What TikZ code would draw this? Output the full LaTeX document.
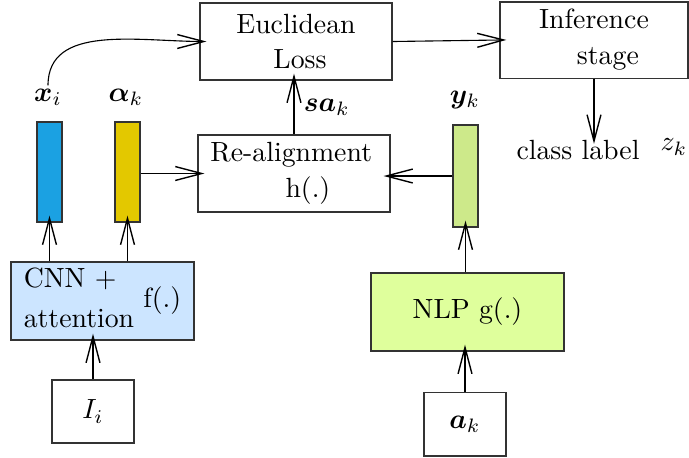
\documentclass[tikz,border=0pt]{standalone}
\usepackage{bm}
\usetikzlibrary{arrows.meta}
\definecolor{barblue}{HTML}{1BA1E2}
\definecolor{baryellow}{HTML}{E3C800}
\definecolor{bargreen}{HTML}{CDE98A}
\definecolor{cnnfill}{HTML}{CCE5FF}
\definecolor{nlpfill}{HTML}{DFFF9C}
\begin{document}
\begin{tikzpicture}[x=0.36pt,y=-0.36pt,
  box/.style={draw=black!80, rectangle, inner sep=0pt, align=center},
  bar/.style={draw=black!80, rectangle, minimum width=9pt, minimum height=36pt, inner sep=0pt},
  arr/.style={-{Straight Barb[length=9.5pt,width=5pt,line width=0.5pt]}, shorten >=-2.5pt},
  lbl/.style={inner sep=1pt}]
\useasboundingbox (0,0) rectangle (689,457);
% boxes
\node[box, minimum width=69.1pt, minimum height=27.7pt] (euc) at (296,41.5) {Euclidean\\[0.6pt]\hspace*{2.9pt}Loss};
\node[box, minimum width=67.7pt, minimum height=27.4pt] (inf) at (594,40) {Inference\\[1pt]\hspace*{10pt}stage};
\node[box, minimum width=69.1pt, minimum height=27.7pt] (realign) at (294,173.5) {Re-alignment\hspace*{2pt}\\[1pt]\hspace*{10pt}h(.)};
\node[box, fill=cnnfill, minimum width=65.9pt, minimum height=28.1pt] (cnn) at (102.5,301) {\begin{tabular}{@{}l@{}}CNN $+$\\[2.5pt]attention\end{tabular} f(.)};
\node[box, fill=nlpfill, minimum width=69.5pt, minimum height=28.1pt] (nlp) at (467.5,312) {NLP g(.)};
\node[box, minimum width=29.5pt, minimum height=22.7pt] (Ii) at (93,411.5) {$I_i$};
\node[box, minimum width=29.5pt, minimum height=23pt] (ak) at (465,424) {$\bm{a}_k$};
% bars
\node[bar, fill=barblue] (xbar) at (49.5,172) {};
\node[bar, fill=baryellow] (abar) at (127.5,172) {};
\node[bar, fill=bargreen, minimum height=36.7pt] (ybar) at (465.5,176) {};
% labels
\node[lbl] (xi) at (48,97) {$\bm{x}_i$};
\node[lbl] (al) at (126,97) {$\bm{\alpha}_k$};
\node[lbl] (yk) at (465,100) {$\bm{y}_k$};
\node[lbl] (cl) at (578,150) {class label};
\node[lbl] (zk) at (674,147) {$z_k$};
% connectors
\draw[arr] (xi.north) to[out=90,in=180] (euc.west);
\draw[arr] (euc.east) -- (inf.west);
\draw[arr] (inf.south) -- (inf.south |- cl.north);
\draw[arr] (realign.north) -- (realign.north |- euc.south) node[midway, right=0pt] {$\bm{sa}_k$};
\draw[arr] (realign.west -| abar.east) -- (realign.west);
\draw[arr] (ybar.west) -- (ybar.west -| realign.east);
\draw[arr] (xbar.south |- cnn.north) -- (xbar.south);
\draw[arr] (abar.south |- cnn.north) -- (abar.south);
\draw[arr] (Ii.north) -- (Ii.north |- cnn.south);
\draw[arr] (ak.north) -- (ak.north |- nlp.south);
\draw[arr] (nlp.north -| ybar.south) -- (ybar.south);
\end{tikzpicture}
\end{document}
